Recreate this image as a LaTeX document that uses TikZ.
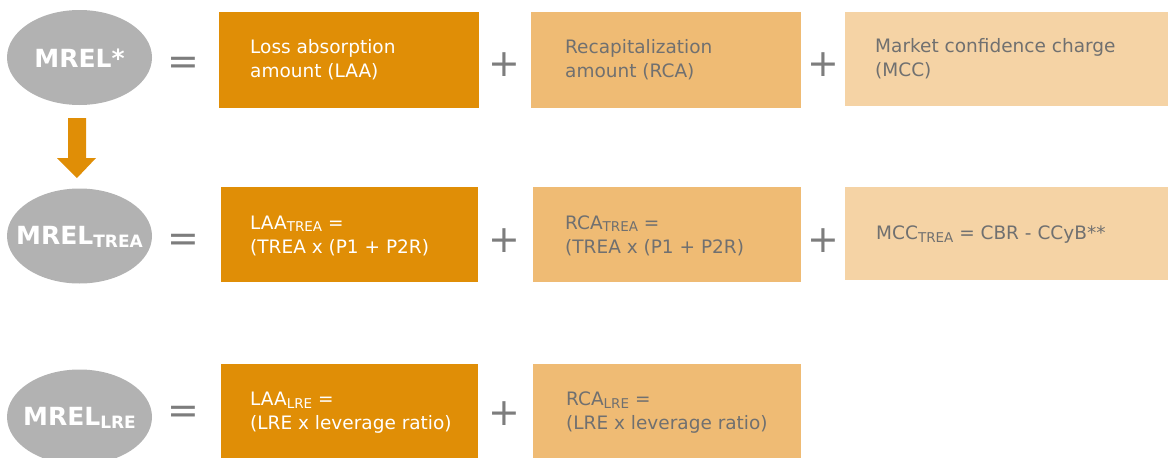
\documentclass[tikz,border=0pt]{standalone}
\usepackage{fontspec}
\setmainfont{DejaVu Sans}
\usetikzlibrary{shapes.geometric}
\definecolor{dkor}{RGB}{224,142,6}
\definecolor{mdor}{RGB}{239,187,116}
\definecolor{ltor}{RGB}{245,211,165}
\definecolor{elgray}{RGB}{178,178,178}
\definecolor{txgray}{RGB}{112,112,112}
\definecolor{opgray}{RGB}{125,125,125}
\newcommand\subsm[1]{\raisebox{-0.12em}{\fontsize{13.5}{13.5}\selectfont #1}}
\newcommand\subbig[1]{\raisebox{-0.14em}{\fontsize{17}{17}\selectfont\bfseries #1}}
\begin{document}
\begin{tikzpicture}[x=1pt,y=-1pt,
  boxbase/.style={rectangle, anchor=north west, inner sep=0pt},
  darkbox/.style={boxbase, fill=dkor},
  midbox/.style={boxbase, fill=mdor},
  lightbox/.style={boxbase, fill=ltor},
  boxtext/.style={anchor=west, inner sep=0pt, align=left,
    font=\fontsize{18.5}{24}\selectfont},
  whitetext/.style={boxtext, text=white},
  graytext/.style={boxtext, text=txgray},
  mrel/.style={ellipse, fill=elgray, inner sep=0pt,
    minimum width=145pt, minimum height=95pt},
  mreltext/.style={text=white, inner sep=0pt, font=\fontsize{25}{25}\selectfont\bfseries},
  op/.style={text=opgray, inner sep=0pt, font=\fontsize{38}{38}\selectfont},
  arrowfill/.style={fill=dkor}
]
\useasboundingbox (0,0) rectangle (1168,458);
\clip (0,0) rectangle (1168,458);

% Row 1
\node[mrel] (m1) at (79.5,57.5) {};
\node[mreltext] (m1t) at (79.5,58.5) {MREL*};
\node[op] (eq1) at (183.5,66) {=};
\node[darkbox, minimum width=260pt, minimum height=96pt] (laa) at (219,12) {};
\node[whitetext] (laat) at (250,60) {Loss absorption\\amount (LAA)};
\node[op] (pl1) at (504,65) {+};
\node[midbox, minimum width=270pt, minimum height=96pt] (rca) at (531,12) {};
\node[graytext] (rcat) at (565,60) {Recapitalization\\amount (RCA)};
\node[op] (pl2) at (823,65) {+};
\node[lightbox, minimum width=323pt, minimum height=94pt] (mcc) at (845,12) {};
\node[graytext] (mcct) at (875,59) {Market confidence charge\\(MCC)};

% Arrow
\fill[arrowfill] (68,118) -- (86,118) -- (86,158) -- (96,158) -- (77,178)
  -- (57,158) -- (68,158) -- cycle;

% Row 2
\node[mrel] (m2) at (79.5,236) {};
\node[mreltext] (m2t) at (79.5,237) {MREL\subbig{TREA}};
\node[op] (eq2) at (183.5,243) {=};
\node[darkbox, minimum width=257pt, minimum height=95pt] (laatr) at (221,187) {};
\node[whitetext] (laatrt) at (250,236) {LAA\subsm{TREA} =\\(TREA x (P1 + P2R)};
\node[op] (pl3) at (504,241) {+};
\node[midbox, minimum width=268pt, minimum height=95pt] (rcatr) at (533,187) {};
\node[graytext] (rcatrt) at (565,236) {RCA\subsm{TREA} =\\(TREA x (P1 + P2R)};
\node[op] (pl4) at (823,241) {+};
\node[lightbox, minimum width=323pt, minimum height=93pt] (mcctr) at (845,187) {};
\node[graytext] (mcctrt) at (876,235) {MCC\subsm{TREA} = CBR - CCyB**};

% Row 3
\node[mrel] (m3) at (79.5,417) {};
\node[mreltext] (m3t) at (79.5,418) {MREL\subbig{LRE}};
\node[op] (eq3) at (183.5,415) {=};
\node[darkbox, minimum width=257pt, minimum height=100pt] (laal) at (221,364) {};
\node[whitetext] (laalt) at (250,413) {LAA\subsm{LRE} =\\(LRE x leverage ratio)};
\node[op] (pl5) at (504,414) {+};
\node[midbox, minimum width=268pt, minimum height=100pt] (rcal) at (533,364) {};
\node[graytext] (rcalt) at (566,413) {RCA\subsm{LRE} =\\(LRE x leverage ratio)};
\end{tikzpicture}
\end{document}
